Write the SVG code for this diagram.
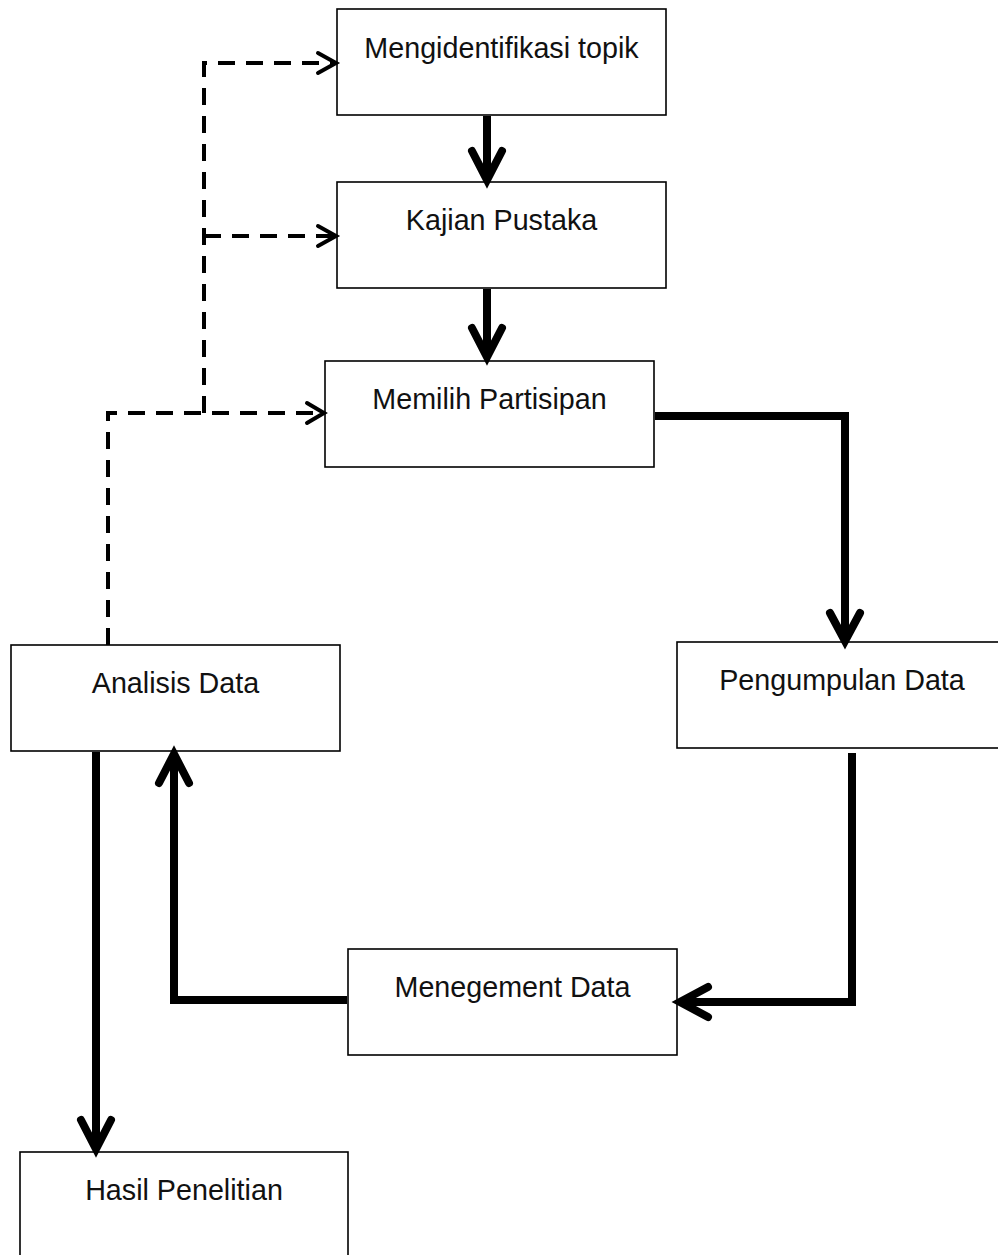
<svg xmlns="http://www.w3.org/2000/svg" width="998" height="1255" viewBox="0 0 998 1255">
<style>
.box{fill:#fff;stroke:#000;stroke-width:1.6}
.lbl{font-family:"Liberation Sans",Arial,sans-serif;font-size:28.7px;fill:#111;text-anchor:middle}
.thick{fill:none;stroke:#000;stroke-width:8;stroke-linejoin:miter}
.head{fill:none;stroke:#000;stroke-width:8;stroke-linecap:round;stroke-linejoin:miter}
.dash{fill:none;stroke:#000;stroke-width:4;stroke-dasharray:17 11}
.dhead{fill:none;stroke:#000;stroke-width:4;stroke-linecap:round;stroke-linejoin:miter}
</style>
<rect width="998" height="1255" fill="#fff"/>
<g id="nodes">
<g id="n1"><rect class="box" x="337" y="9" width="329" height="106"/><text class="lbl" x="501.5" y="58">Mengidentifikasi topik</text></g>
<g id="n2"><rect class="box" x="337" y="182" width="329" height="106"/><text class="lbl" x="501.5" y="230">Kajian Pustaka</text></g>
<g id="n3"><rect class="box" x="325" y="361" width="329" height="106"/><text class="lbl" x="489.5" y="409">Memilih Partisipan</text></g>
<g id="n4"><rect class="box" x="677" y="642" width="330" height="106"/><text class="lbl" x="842" y="690">Pengumpulan Data</text></g>
<g id="n5"><rect class="box" x="11" y="645" width="329" height="106"/><text class="lbl" x="175.5" y="693">Analisis Data</text></g>
<g id="n6"><rect class="box" x="348" y="949" width="329" height="106"/><text class="lbl" x="512.5" y="997">Menegement Data</text></g>
<g id="n7"><rect class="box" x="20" y="1152" width="328" height="110"/><text class="lbl" x="184" y="1200">Hasil Penelitian</text></g>
</g>
<g id="connectors">
<!-- n1 -> n2 -->
<path class="thick" d="M487 116 V179"/>
<path class="head" d="M472 151 L487 180 L502 151"/>
<!-- n2 -> n3 -->
<path class="thick" d="M487 289 V356"/>
<path class="head" d="M472 328 L487 357 L502 328"/>
<!-- n3 -> n4 -->
<path class="thick" d="M655 416 H845 V640"/>
<path class="head" d="M830 613 L845 641 L860 613"/>
<!-- n4 -> n6 -->
<path class="thick" d="M852 753 V1002 H682"/>
<path class="head" d="M708 987 L680 1002 L708 1017"/>
<!-- n6 -> n5 -->
<path class="thick" d="M347 1000 H174 V755"/>
<path class="head" d="M159 783 L174 754 L189 783"/>
<!-- n5 -> n7 -->
<path class="thick" d="M96 752 V1148"/>
<path class="head" d="M81 1120 L96 1149 L111 1120"/>
<!-- dashed feedback -->
<path class="dash" d="M108 645 V413 H322"/>
<path class="dash" d="M204 413 V63 H334"/>
<path class="dash" d="M204 236 H334"/>
<path class="dhead" d="M318 53 L336 63 L318 73"/>
<path class="dhead" d="M318 226 L336 236 L318 246"/>
<path class="dhead" d="M307 403 L324 413 L307 423"/>
</g>
</svg>
